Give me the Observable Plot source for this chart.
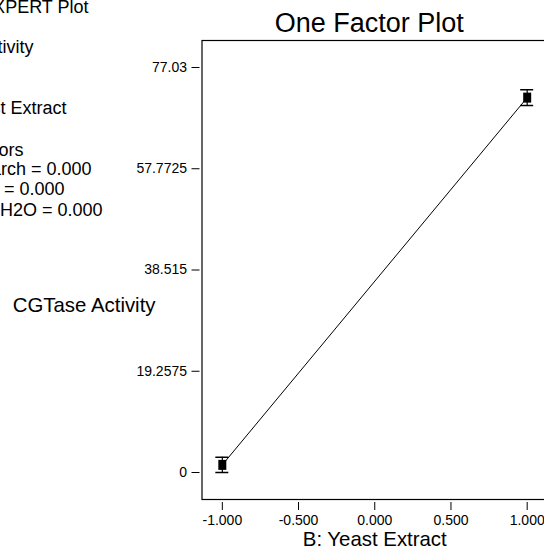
<!DOCTYPE html>
<html>
<head>
<meta charset="utf-8">
<script src="https://cdn.jsdelivr.net/npm/d3@7"></script>
<script src="https://cdn.jsdelivr.net/npm/@observablehq/plot@0.6"></script>
<style>
  html, body { margin: 0; padding: 0; background: white; overflow: hidden; }
  #chart svg { display: block; }
</style>
</head>
<body>
<div id="chart"></div>
<script>
// ---- data ----
const xTicks = [-1, -0.5, 0, 0.5, 1];
const xTickLabels = ["-1.000", "-0.500", "0.000", "0.500", "1.000"];
const yTicks = [0, 19.2575, 38.515, 57.7725, 77.03];
const yTickLabels = ["0", "19.2575", "38.515", "57.7725", "77.03"];

const pointX = [-1, 1];
const pointY = [1.45, 71.3];
const lowY = [0, 69.8];
const highY = [2.9, 72.8];

const lineX = [-1, 1];
const lineY = [1.45, 71.3];

const titleText = "One Factor Plot";
const xLabel = "B: Yeast Extract";
const yLabel = "CGTase Activity";
const legendLines = [
  "DESIGN-EXPERT Plot",
  "CGTase Activity",
  "X = B: Yeast Extract",
  "Actual Factors",
  "A: Sago Starch = 0.000",
  "C: K2HPO4 = 0.000",
  "D: MgSO4.7H2O = 0.000"
];

// ---- layout (pixels) ----
const W = 544, H = 556;
const mL = 201.5, mT = 40, mB = 57, mR = -3;
const legendEndX = [88, 33, 66, 23, 91, 64, 102];
const legendMidY = [7, 47, 108, 150, 169, 189, 210];

const points = pointX.map((x, i) => ({x, y: pointY[i], lo: lowY[i], hi: highY[i]}));
const line = lineX.map((x, i) => ({x, y: lineY[i]}));

const barSymbol = { draw(ctx) { ctx.rect(-4, -5, 8, 10); } };

const legendMarks = legendLines.map((s, i) =>
  Plot.text([s], {
    text: d => d, frameAnchor: "top-left", textAnchor: "end", lineAnchor: "middle",
    dx: legendEndX[i] - mL, dy: legendMidY[i] - mT, fontSize: 18, fill: "black"
  })
);

const plot = Plot.plot({
  width: W, height: H,
  marginLeft: mL, marginTop: mT, marginBottom: mB, marginRight: mR,
  style: { fontFamily: "'Liberation Sans', Arial, Helvetica, sans-serif", background: "white", color: "black" },
  x: { domain: [-1.1333, 1.1333] },
  y: { domain: [-5.135, 82.165] },
  marks: [
    Plot.frame({ stroke: "black", strokeWidth: 1.2 }),
    Plot.axisX({
      ticks: xTicks, tickFormat: (d, i) => xTickLabels[i], tickSize: 8, tickPadding: 5,
      dy: 3, fontSize: 14, label: null, stroke: "black", fill: "black"
    }),
    Plot.axisY({
      ticks: yTicks, tickFormat: (d, i) => yTickLabels[i], tickSize: 8, tickPadding: 5,
      dx: -2, fontSize: 14, label: null, stroke: "black", fill: "black"
    }),
    Plot.line(line, { x: "x", y: "y", stroke: "black", strokeWidth: 1 }),
    Plot.ruleX(points, { x: "x", y1: "lo", y2: "hi", stroke: "black", strokeWidth: 1.2 }),
    Plot.ruleY(points, { y: "lo", x1: "x", x2: "x", insetLeft: -6.5, insetRight: -6.5, stroke: "black", strokeWidth: 1.5 }),
    Plot.ruleY(points, { y: "hi", x1: "x", x2: "x", insetLeft: -6.5, insetRight: -6.5, stroke: "black", strokeWidth: 1.5 }),
    Plot.dot(points, { x: "x", y: "y", symbol: barSymbol, fill: "black", stroke: "none" }),
    Plot.text([titleText], { text: d => d, frameAnchor: "top", lineAnchor: "middle", dx: -5.5, dy: -17, fontSize: 27, fill: "black" }),
    Plot.text([xLabel], { text: d => d, frameAnchor: "bottom", lineAnchor: "middle", dy: 40, fontSize: 20.4, fill: "black" }),
    Plot.text([yLabel], { text: d => d, frameAnchor: "left", textAnchor: "end", lineAnchor: "middle", dx: 155 - mL, dy: 305 - (mT + (H - mB - mT) / 2), fontSize: 20.4, fill: "black" }),
    ...legendMarks
  ]
});
document.getElementById("chart").appendChild(plot);
</script>
</body>
</html>
